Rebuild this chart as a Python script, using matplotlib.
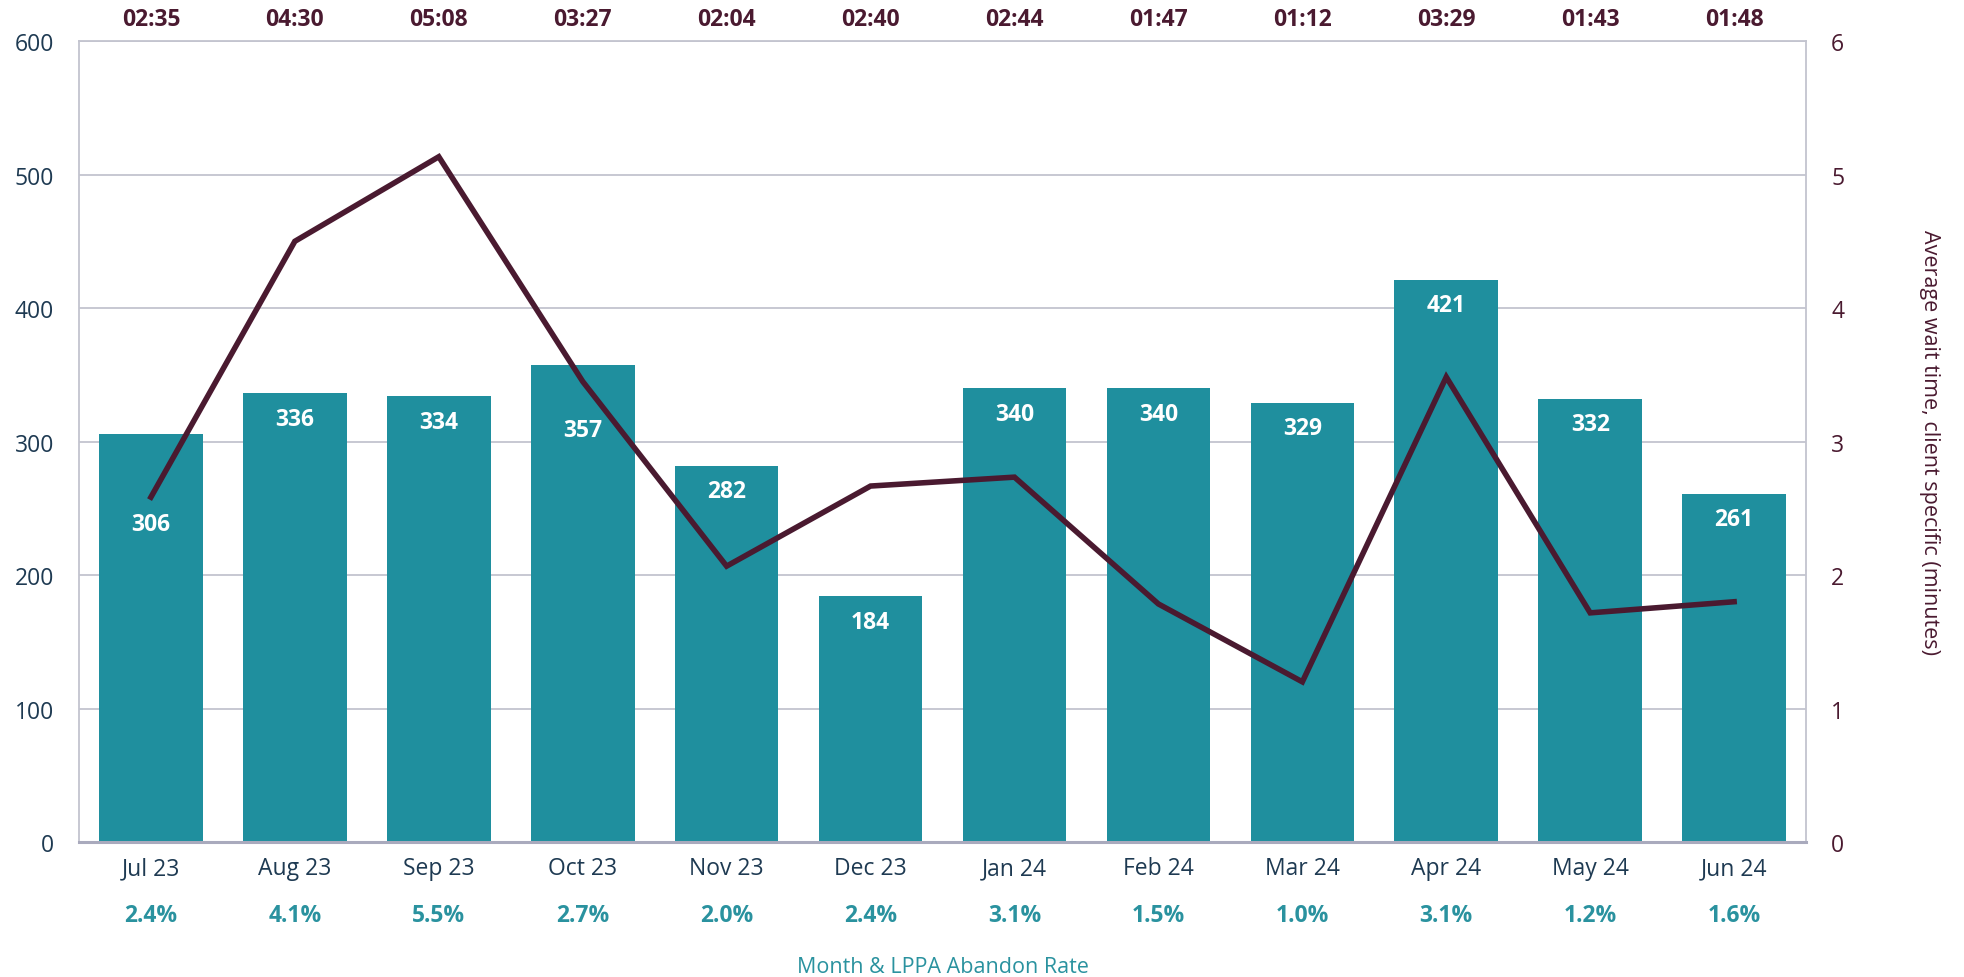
import numpy as np
import matplotlib
matplotlib.use("Agg")
import matplotlib.pyplot as plt
import matplotlib.transforms as mtransforms

# Data
months = ["Jul 23", "Aug 23", "Sep 23", "Oct 23", "Nov 23", "Dec 23",
          "Jan 24", "Feb 24", "Mar 24", "Apr 24", "May 24", "Jun 24"]
calls = [306, 336, 334, 357, 282, 184, 340, 340, 329, 421, 332, 261]
wait_labels = ["02:35", "04:30", "05:08", "03:27", "02:04", "02:40",
               "02:44", "01:47", "01:12", "03:29", "01:43", "01:48"]
abandon_rate = ["2.4%", "4.1%", "5.5%", "2.7%", "2.0%", "2.4%",
                "3.1%", "1.5%", "1.0%", "3.1%", "1.2%", "1.6%"]

# wait time in minutes, from mm:ss
wait_minutes = [int(t.split(":")[0]) + int(t.split(":")[1]) / 60 for t in wait_labels]

TEAL = "#1F8F9E"
TEAL_TEXT = "#2A929F"
MAROON = "#4A1A30"
NAVY = "#1E3A52"
GRID = "#C3C4CF"
FS = 16.5

plt.rcParams["font.family"] = ["Open Sans", "DejaVu Sans"]

fig = plt.figure(figsize=(19.64, 9.78), dpi=100)
ax = fig.add_axes([0.0402, 0.138, 0.8794, 0.819])
ax2 = ax.twinx()

x = np.arange(len(months))
ax.bar(x, calls, width=0.72, color=TEAL, zorder=2)

# value labels inside bars; two are pushed down to clear the line
label_drop = {0: 68, 3: 48}
for i, v in enumerate(calls):
    ax.text(i, v - label_drop.get(i, 19), str(v), ha="center", va="center",
            color="white", fontsize=FS, fontweight="bold", zorder=3)

ax.set_xlim(-0.5, len(months) - 0.5)
ax.set_ylim(0, 600)
ax.set_yticks(range(0, 601, 100))
ax.yaxis.grid(True, color=GRID, linewidth=1.3, zorder=0)
ax.set_axisbelow(True)
ax.tick_params(axis="y", length=0, pad=18, labelsize=FS, labelcolor=NAVY)
ax.set_xticks(x)
ax.set_xticklabels(months)
ax.tick_params(axis="x", length=0, pad=10, labelsize=FS, labelcolor=NAVY)

for side in ["left", "right", "top"]:
    ax.spines[side].set_color(GRID)
    ax.spines[side].set_linewidth(1.3)
ax.spines["bottom"].set_color("#A9AABD")
ax.spines["bottom"].set_linewidth(2.2)

ax2.plot(x, wait_minutes, color=MAROON, linewidth=4, zorder=4,
         solid_joinstyle="miter")
ax2.set_ylim(0, 6)
ax2.set_yticks(range(0, 7))
ax2.tick_params(axis="y", length=0, pad=18, labelsize=FS, labelcolor=MAROON)
for side in ["left", "right", "top", "bottom"]:
    ax2.spines[side].set_visible(False)
ax2.set_ylabel("Average wait time, client specific (minutes)", rotation=270,
               fontsize=15.5, color=MAROON, va="center")
ax2.yaxis.set_label_coords(1.0712, 0.5)

trans = mtransforms.blended_transform_factory(ax.transData, ax.transAxes)
for i, t in enumerate(wait_labels):
    ax.text(i, 1.0275, t, transform=trans, ha="center", va="center",
            color=MAROON, fontsize=FS, fontweight="bold")
for i, r in enumerate(abandon_rate):
    ax.text(i, -0.091, r, transform=trans, ha="center", va="center",
            color=TEAL_TEXT, fontsize=FS, fontweight="bold")

ax.text(0.5, -0.156, "Month & LPPA Abandon Rate", transform=ax.transAxes,
        ha="center", va="center", color=TEAL_TEXT, fontsize=15.5)

fig.savefig("out.png", dpi=100)
